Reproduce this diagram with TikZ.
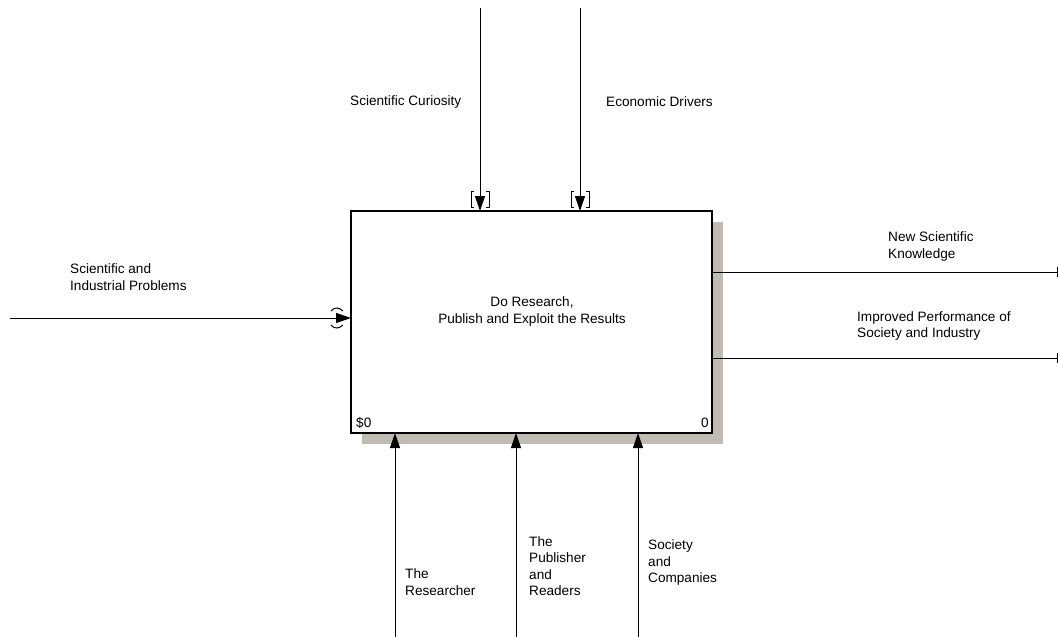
\documentclass[tikz,border=0pt]{standalone}
\usepackage{fontspec}
\setmainfont{Liberation Sans}
\usetikzlibrary{arrows.meta}
\definecolor{shadowgray}{RGB}{192,188,180}
\begin{document}
\begin{tikzpicture}[x=1pt,y=-1pt,
  lbl/.style={font=\fontsize{13.6}{16.3}\selectfont, align=left, inner sep=0pt, anchor=west},
  flow/.style={line width=1pt, -{Triangle[length=15pt,width=10pt]}},
  tunnel/.style={line width=1pt},
  actbox/.style={draw=black, line width=2pt, fill=white, minimum width=361pt, minimum height=222pt, inner sep=0pt, outer sep=0pt}]
\useasboundingbox (0,0) rectangle (1058,637);
\fill[shadowgray] (362,222) rectangle (723,444);
\node[actbox] (A0) at (531.5,322) {};
\node[lbl, anchor=center, align=center] (t0) at (532,311.5) {Do Research,\\Publish and Exploit the Results};
\node[lbl] (n0) at (356,423) {\$0};
\node[lbl, anchor=east] (n1) at (709,423) {0};
% controls
\coordinate (c1) at (480,8);
\coordinate (c2) at (580,8);
\draw[flow] (c1) -- (c1 |- A0.north);
\draw[flow] (c2) -- (c2 |- A0.north);
\draw[tunnel] (474,191) -- (471,191) -- (471,207) -- (474,207);
\draw[tunnel] (486,191) -- (489,191) -- (489,207) -- (486,207);
\draw[tunnel] (574,191) -- (571,191) -- (571,207) -- (574,207);
\draw[tunnel] (586,191) -- (589,191) -- (589,207) -- (586,207);
\node[lbl] (l1) at (350,102) {Scientific Curiosity};
\node[lbl] (l2) at (606,102) {Economic Drivers};
% input
\coordinate (i1) at (10,318);
\draw[flow] (i1) -- (i1 -| A0.west);
\draw[tunnel] (331,311) .. controls (334,307) and (339,307) .. (343,311);
\draw[tunnel] (331,325) .. controls (334,329) and (339,329) .. (343,325);
\node[lbl] (l3) at (70,277) {Scientific and\\Industrial Problems};
% outputs
\coordinate (o1) at (1072,272);
\coordinate (o2) at (1072,358);
\draw[flow] (o1 -| A0.east) -- (o1);
\draw[flow] (o2 -| A0.east) -- (o2);
\node[lbl] (l4) at (888,246.5) {New Scientific\\Knowledge};
\node[lbl] (l5) at (857,326) {Improved Performance of\\Society and Industry};
% mechanisms
\coordinate (m1) at (395,637);
\coordinate (m2) at (516,637);
\coordinate (m3) at (638,637);
\draw[flow] (m1) -- (m1 |- A0.south);
\draw[flow] (m2) -- (m2 |- A0.south);
\draw[flow] (m3) -- (m3 |- A0.south);
\node[lbl] (l6) at (405,582) {The\\Researcher};
\node[lbl] (l7) at (529,566) {The\\Publisher\\and\\Readers};
\node[lbl] (l8) at (648,562.5) {Society\\and\\Companies};
\end{tikzpicture}
\end{document}
